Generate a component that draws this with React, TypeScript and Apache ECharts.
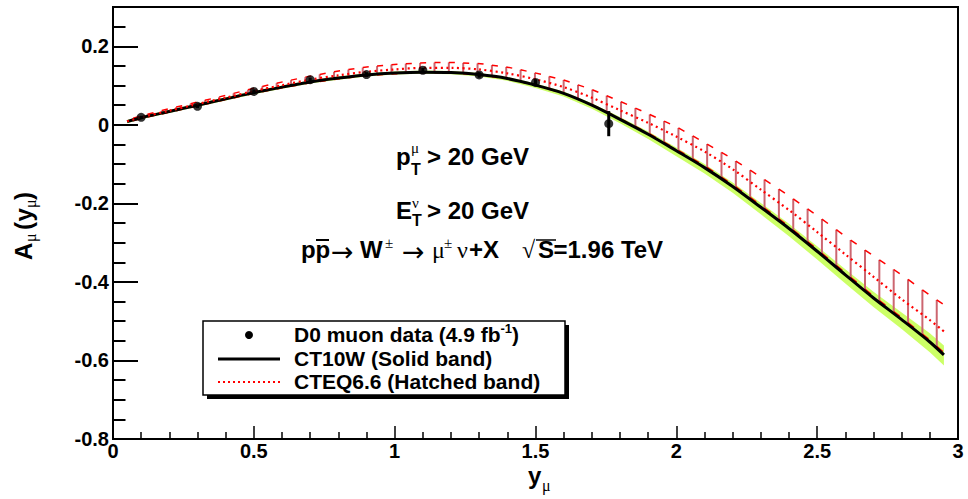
import React, { useEffect, useRef } from 'react';
import * as echarts from 'echarts';

// ---- data ----
const xGrid = [0.05, 0.1, 0.2, 0.3, 0.4, 0.5, 0.6, 0.7, 0.8, 0.9, 1.0, 1.1, 1.2, 1.3, 1.4, 1.5, 1.6, 1.7, 1.8, 1.9, 2.0, 2.1, 2.2, 2.3, 2.4, 2.5, 2.6, 2.7, 2.8, 2.9, 2.95];
const ct10 = [0.008, 0.018, 0.034, 0.05, 0.066, 0.082, 0.096, 0.109, 0.119, 0.127, 0.132, 0.134, 0.133, 0.128, 0.118, 0.101, 0.08, 0.05, 0.014, -0.024, -0.066, -0.109, -0.157, -0.21, -0.264, -0.322, -0.382, -0.441, -0.496, -0.553, -0.586];
const ct10Hi = [0.012, 0.022, 0.038, 0.054, 0.07, 0.086, 0.1, 0.113, 0.123, 0.131, 0.136, 0.138, 0.137, 0.132, 0.122, 0.105, 0.085, 0.055, 0.02, -0.017, -0.058, -0.1, -0.147, -0.199, -0.252, -0.309, -0.368, -0.425, -0.478, -0.531, -0.562];
const ct10Lo = [0.004, 0.014, 0.03, 0.046, 0.062, 0.078, 0.092, 0.105, 0.115, 0.123, 0.128, 0.13, 0.129, 0.123, 0.112, 0.094, 0.072, 0.041, 0.004, -0.036, -0.08, -0.124, -0.173, -0.228, -0.284, -0.343, -0.404, -0.464, -0.52, -0.579, -0.613];
const cteq = [0.009, 0.019, 0.036, 0.053, 0.069, 0.086, 0.101, 0.115, 0.126, 0.135, 0.141, 0.145, 0.145, 0.141, 0.131, 0.116, 0.096, 0.069, 0.037, 0.005, -0.03, -0.068, -0.113, -0.165, -0.217, -0.273, -0.33, -0.387, -0.444, -0.497, -0.526];
const cteqHi = [0.012, 0.023, 0.041, 0.058, 0.075, 0.093, 0.109, 0.124, 0.137, 0.147, 0.154, 0.158, 0.159, 0.156, 0.147, 0.132, 0.114, 0.09, 0.06, 0.028, -0.005, -0.045, -0.087, -0.133, -0.181, -0.231, -0.284, -0.334, -0.382, -0.434, -0.458];
const cteqLo = [0.006, 0.016, 0.032, 0.048, 0.064, 0.08, 0.094, 0.107, 0.117, 0.125, 0.13, 0.133, 0.132, 0.127, 0.117, 0.101, 0.08, 0.051, 0.016, -0.021, -0.062, -0.104, -0.152, -0.205, -0.259, -0.317, -0.377, -0.436, -0.491, -0.548, -0.58];

const d0X = [0.1, 0.3, 0.5, 0.7, 0.9, 1.1, 1.3, 1.5, 1.76];
const d0Y = [0.019, 0.047, 0.085, 0.115, 0.128, 0.139, 0.127, 0.108, 0.003];
const d0Err = [0.004, 0.004, 0.005, 0.005, 0.006, 0.006, 0.007, 0.008, 0.032];

const xTicks = ['0', '0.5', '1', '1.5', '2', '2.5', '3'];

const SANS = '"Liberation Sans", Arial, Helvetica, sans-serif';
const SERIF = '"Liberation Serif", "DejaVu Serif", "Times New Roman", serif';
const ARROW = '"DejaVu Sans", sans-serif';

function T(text: string, x: number, base: number, size: number, bold = true, serif = false, family?: string, lineHeight?: number) {
  const style: any = {
    text,
    fill: '#000',
    fontSize: size,
    fontWeight: bold ? 'bold' : 'normal',
    fontFamily: family ? family : serif ? SERIF : SANS,
    align: 'left',
    verticalAlign: 'middle',
    textAlign: 'left',
    textVerticalAlign: 'middle',
  };
  if (lineHeight) style.lineHeight = lineHeight;
  return { type: 'text', x, y: base - 0.35 * size, z: 100, style };
}

function measure(text: string, size: number, bold = true, serif = false) {
  const c = document.createElement('canvas').getContext('2d')!;
  c.font = `${bold ? 'bold ' : ''}${size}px ${serif ? SERIF : SANS}`;
  return c.measureText(text).width;
}

function interp(arr: number[][], px: number) {
  for (let i = 0; i < arr.length - 1; i++) {
    if (px >= arr[i][0] && px <= arr[i + 1][0]) {
      const t = (px - arr[i][0]) / (arr[i + 1][0] - arr[i][0] || 1);
      return arr[i][1] + t * (arr[i + 1][1] - arr[i][1]);
    }
  }
  return arr[arr.length - 1][1];
}

export default function App() {
  const ref = useRef<HTMLDivElement>(null);
  useEffect(() => {
    if (!ref.current) return;
    const chart = echarts.init(ref.current, null, { renderer: 'svg' });

    const bandData = xGrid.map((x, i) => [x, ct10Lo[i], ct10Hi[i]]);

    const renderGreen = (params: any, api: any) => {
      const up = xGrid.map((x, i) => api.coord([x, ct10Hi[i]]));
      const lo = xGrid.map((x, i) => api.coord([x, ct10Lo[i]])).reverse();
      return {
        type: 'polygon',
        shape: { points: up.concat(lo) },
        style: { fill: '#ccff66', stroke: 'none' },
      };
    };

    const renderHatch = (params: any, api: any) => {
      const up = xGrid.map((x, i) => api.coord([x, cteqHi[i]]));
      const lo = xGrid.map((x, i) => api.coord([x, cteqLo[i]]));
      const x0 = up[0][0];
      const x1 = up[up.length - 1][0];
      const step = 14.35;
      const cap = 6;
      const anchor = api.coord([1.498, 0])[0];
      const start = anchor - Math.floor((anchor - x0) / step) * step;
      const children: any[] = [];
      for (let px = start; px <= x1; px += step) {
        const yu = interp(up, px);
        const yl = interp(lo, px);
        const pe = Math.min(px + cap, x1);
        children.push({
          type: 'line',
          shape: { x1: px, y1: yu, x2: px, y2: yl },
          style: { stroke: '#cc6670', lineWidth: 2 },
        });
        children.push({
          type: 'line',
          shape: { x1: px, y1: yu, x2: pe, y2: interp(up, pe) },
          style: { stroke: '#ff0000', lineWidth: 1.5 },
        });
        children.push({
          type: 'line',
          shape: { x1: px, y1: yl, x2: pe, y2: interp(lo, pe) },
          style: { stroke: '#ff0000', lineWidth: 1.5 },
        });
      }
      return { type: 'group', children };
    };

    const renderErr = (params: any, api: any) => {
      const x = api.value(0);
      const y = api.value(1);
      const e = api.value(2);
      const a = api.coord([x, y + e]);
      const b = api.coord([x, y - e]);
      return {
        type: 'line',
        shape: { x1: a[0], y1: a[1], x2: b[0], y2: b[1] },
        style: { stroke: '#000', lineWidth: 3 },
      };
    };

    // annotations
    const g: any[] = [];
    // line 1: p_T^mu > 20 GeV
    g.push(T('p', 396, 165, 24));
    g.push(T('\u03bc', 411, 153, 15, false, true));
    g.push(T('T', 411, 175, 16));
    g.push(T('> 20 GeV', 427, 165, 24));
    // line 2: E_T^nu > 20 GeV
    g.push(T('E', 396, 219, 24));
    g.push(T('\u03bd', 412, 208, 15, false, true));
    g.push(T('T', 412, 226, 16));
    g.push(T('> 20 GeV', 427, 219, 24));
    // line 3
    const b3 = 258;
    g.push(T('p', 301, b3, 24));
    g.push(T('p', 315.5, b3, 24));
    g.push({ type: 'line', z: 100, shape: { x1: 316, y1: 240, x2: 329, y2: 240 }, style: { stroke: '#000', lineWidth: 2 } });
    g.push(T('\u2192', 331, b3 + 3, 27, false, false, ARROW));
    g.push(T('W', 360, b3, 24));
    g.push(T('\u00b1', 385, b3 - 10, 15, false, true));
    g.push(T('\u2192', 402, b3 + 3, 27, false, false, ARROW));
    g.push(T('\u03bc', 432, b3, 24, false, true));
    g.push(T('\u00b1', 444, b3 - 10, 15, false, true));
    g.push(T('\u03bd', 457, b3, 24, false, true));
    g.push(T('+X', 469, b3, 24));
    g.push(T('\u221a', 522, b3, 24, false, true));
    g.push({ type: 'line', z: 100, shape: { x1: 536, y1: 240, x2: 556, y2: 240 }, style: { stroke: '#000', lineWidth: 1.5 } });
    g.push(T('S', 538, b3, 24));
    g.push(T('=1.96 TeV', 553.5, b3, 24));

    // y axis title (rotated)
    g.push({
      type: 'group',
      x: 31.5,
      y: 260,
      rotation: Math.PI / 2,
      children: [
        T('A', 0, 0, 24),
        T('\u03bc', 18, 5, 16, false, true),
        T('(', 30, 0, 24),
        T('y', 38.5, 0, 24),
        T('\u03bc', 52, 5, 16, false, true),
        T(')', 60, 0, 24),
      ],
    });
    // x axis title
    g.push(T('y', 528, 484, 24));
    g.push(T('\u03bc', 542, 491, 16, false, true));

    // legend
    g.push({ type: 'rect', z: 90, shape: { x: 207, y: 325, width: 362, height: 74 }, style: { fill: '#000' } });
    g.push({ type: 'rect', z: 91, shape: { x: 203, y: 321, width: 362, height: 74 }, style: { fill: '#fff', stroke: '#000', lineWidth: 1.5 } });
    g.push({ type: 'circle', z: 100, shape: { cx: 249, cy: 335, r: 4 }, style: { fill: '#000' } });
    g.push({ type: 'line', z: 100, shape: { x1: 218, y1: 359, x2: 280, y2: 359 }, style: { stroke: '#000', lineWidth: 3 } });
    g.push({ type: 'line', z: 100, shape: { x1: 218, y1: 382, x2: 280, y2: 382 }, style: { stroke: '#ff0000', lineWidth: 2, lineDash: [2, 3] } });
    const l1 = 'D0 muon data (4.9 fb';
    const w1 = measure(l1, 21);
    g.push(T(l1, 294, 342, 21));
    g.push(T('-1', 294 + w1, 333, 13));
    g.push(T(')', 294 + w1 + measure('-1', 13), 342, 21));
    g.push(T('CT10W (Solid band)', 294, 366, 21));
    g.push(T('CTEQ6.6 (Hatched band)', 294, 389, 21));

    chart.setOption({
      animation: false,
      backgroundColor: '#fff',
      grid: { left: 113, right: 10, top: 7, bottom: 60, show: true, borderColor: '#000', borderWidth: 2, backgroundColor: 'transparent' },
      xAxis: {
        type: 'value',
        min: 0,
        max: 3,
        interval: 0.5,
        axisLine: { show: true, onZero: false, lineStyle: { color: '#000', width: 2 } },
        axisTick: { show: true, inside: true, length: 13, lineStyle: { color: '#000', width: 1.5 } },
        minorTick: { show: true, splitNumber: 5, length: 7, lineStyle: { color: '#000', width: 1.5 } },
        splitLine: { show: false },
        minorSplitLine: { show: false },
        axisLabel: {
          color: '#000',
          fontFamily: SANS,
          fontWeight: 'bold',
          fontSize: 20,
          margin: 2,
          formatter: (v: number) => xTicks[Math.round(v / 0.5)] ?? String(v),
        },
      },
      yAxis: {
        type: 'value',
        min: -0.8,
        max: 0.3,
        interval: 0.2,
        axisLine: { show: true, onZero: false, lineStyle: { color: '#000', width: 2 } },
        axisTick: { show: true, inside: true, length: 25, lineStyle: { color: '#000', width: 2 } },
        minorTick: { show: true, splitNumber: 4, length: 12.5, lineStyle: { color: '#000', width: 2 } },
        splitLine: { show: false },
        minorSplitLine: { show: false },
        axisLabel: {
          color: '#000',
          fontFamily: SANS,
          fontWeight: 'bold',
          fontSize: 20,
          margin: 4,
          showMaxLabel: false,
          formatter: (v: number) => (Math.abs(v) < 1e-9 ? '0' : String(Math.round(v * 10) / 10)),
        },
      },
      series: [
        { type: 'custom', name: 'CT10W band', renderItem: renderGreen, data: [bandData[0]], z: 1, silent: true },
        { type: 'custom', name: 'CTEQ6.6 band', renderItem: renderHatch, data: [bandData[0]], z: 2, silent: true },
        {
          type: 'line', name: 'CT10W', data: xGrid.map((x, i) => [x, ct10[i]]), showSymbol: false, smooth: 0.3, z: 4,
          lineStyle: { color: '#000', width: 3 },
        },
        {
          type: 'line', name: 'CTEQ6.6', data: xGrid.map((x, i) => [x, cteq[i]]), showSymbol: false, smooth: 0.3, z: 5,
          lineStyle: { color: '#ff0000', width: 2.2, type: [2, 3.5] },
        },
        { type: 'custom', name: 'D0 err', renderItem: renderErr, data: d0X.map((x, i) => [x, d0Y[i], d0Err[i]]), z: 6 },
        {
          type: 'scatter', name: 'D0 muon data', data: d0X.map((x, i) => [x, d0Y[i]]), symbol: 'circle', symbolSize: 9, z: 7,
          itemStyle: { color: '#000' },
        },
      ],
      graphic: g,
    });
    return () => chart.dispose();
  }, []);
  return <div ref={ref} style={{ position: 'fixed', left: 0, top: 0, width: 968, height: 499, background: '#fff' }} />;
}
